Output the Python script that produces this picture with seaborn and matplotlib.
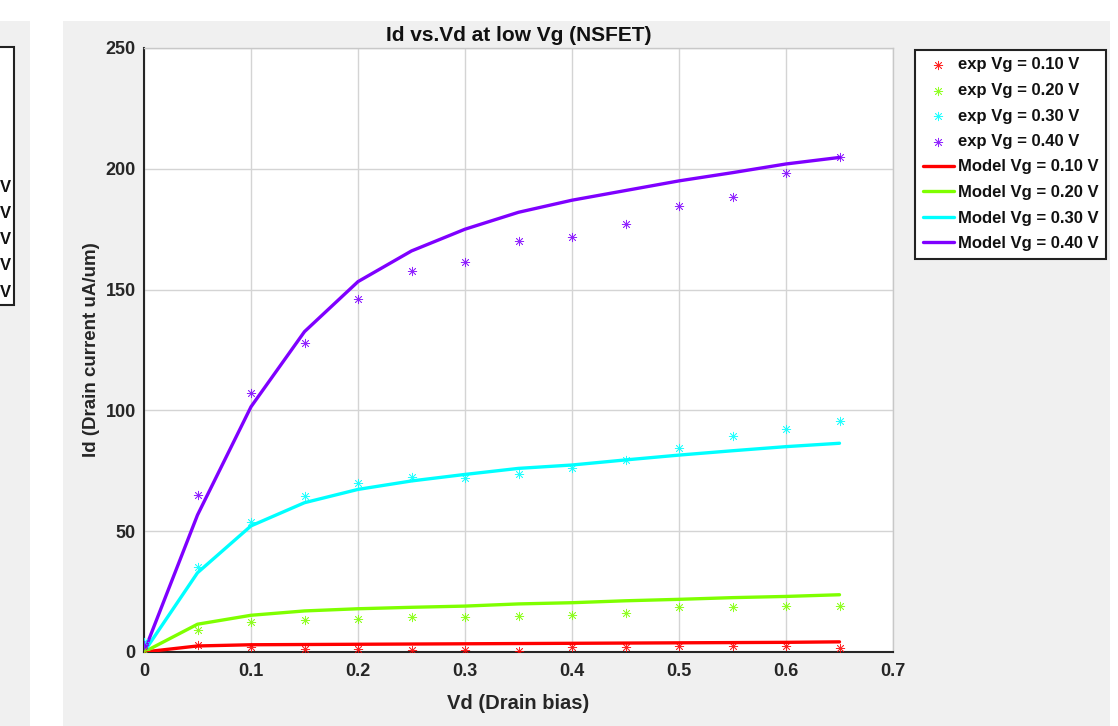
import numpy as np
import pandas as pd
import matplotlib
matplotlib.use("Agg")
import matplotlib.pyplot as plt
from matplotlib.patches import Rectangle
import seaborn as sns

# ---- data ----
vd = [0.0, 0.05, 0.10, 0.15, 0.20, 0.25, 0.30, 0.35, 0.40, 0.45, 0.50, 0.55, 0.60, 0.65]
vg_labels = ["0.10", "0.20", "0.30", "0.40"]
colors = ["#ff0000", "#7fff00", "#00ffff", "#7f00ff"]

exp_01 = [0.5, 2.8, 2.2, 1.4, 1.4, 0.7, 1.0, 0.5, 2.0, 2.0, 2.3, 2.3, 2.3, 1.8]
exp_02 = [1.0, 9.1, 12.4, 13.2, 13.8, 14.5, 14.6, 14.8, 15.2, 16.0, 18.8, 18.8, 19.2, 18.9]
exp_03 = [4.0, 35.3, 54.0, 64.6, 69.8, 72.3, 71.9, 73.7, 76.0, 79.5, 84.3, 89.4, 92.2, 95.7]
exp_04 = [3.0, 65.0, 107.3, 128.0, 146.0, 157.7, 161.4, 170.3, 171.6, 177.0, 184.6, 188.3, 198.4, 205.0]

model_01 = [0.0, 2.5, 3.0, 3.1, 3.2, 3.3, 3.4, 3.5, 3.6, 3.7, 3.8, 3.9, 4.0, 4.2]
model_02 = [0.0, 11.5, 15.2, 17.0, 17.9, 18.5, 19.0, 19.9, 20.4, 21.2, 21.8, 22.5, 23.0, 23.7]
model_03 = [0.0, 32.8, 52.2, 61.8, 67.3, 70.8, 73.5, 76.0, 77.4, 79.5, 81.5, 83.3, 85.0, 86.4]
model_04 = [0.0, 56.7, 101.5, 132.6, 153.3, 166.0, 175.0, 182.0, 187.0, 191.0, 195.0, 198.4, 202.0, 204.7]

exp_series = [exp_01, exp_02, exp_03, exp_04]
model_series = [model_01, model_02, model_03, model_04]

xticks = [0, 0.1, 0.2, 0.3, 0.4, 0.5, 0.6, 0.7]
xticklabels = ["0", "0.1", "0.2", "0.3", "0.4", "0.5", "0.6", "0.7"]
yticks = [0, 50, 100, 150, 200, 250]

# ---- style ----
sns.set_style("whitegrid")
plt.rcParams["font.family"] = ["Liberation Sans", "DejaVu Sans"]
plt.rcParams["font.weight"] = "bold"

W, H = 1118, 726
fig = plt.figure(figsize=(W / 100, H / 100), dpi=100)
fig.patch.set_facecolor("white")

gray = "#f0f0f0"
fig.patches.append(Rectangle((0, 0), 30 / W, (H - 21) / H, transform=fig.transFigure,
                             facecolor=gray, edgecolor="none", zorder=-10))
fig.patches.append(Rectangle((63 / W, 0), (1110 - 63) / W, (H - 21) / H, transform=fig.transFigure,
                             facecolor=gray, edgecolor="none", zorder=-10))
# partial legend box of the neighbouring (cut-off) panel
fig.patches.append(Rectangle((-20 / W, 1 - 305 / H), 34 / W, (305 - 47) / H, transform=fig.transFigure,
                             facecolor="white", edgecolor="#222222", linewidth=1.5, zorder=-5))
for yy in [187, 213, 240, 266, 292]:
    fig.text(11 / W, 1 - yy / H, "V", ha="right", va="center", fontsize=12,
             fontweight="bold", color="#111111")

ax = fig.add_axes([144 / W, 1 - 652 / H, (893 - 144) / W, (652 - 48) / H])
ax.set_facecolor("white")

rows = []
for lab, ys in zip(vg_labels, exp_series):
    for x, y in zip(vd, ys):
        rows.append({"Vd": x, "Id": y, "Vg": lab})
df_exp = pd.DataFrame(rows)
rows = []
for lab, ys in zip(vg_labels, model_series):
    for x, y in zip(vd, ys):
        rows.append({"Vd": x, "Id": y, "Vg": lab})
df_model = pd.DataFrame(rows)

for lab, c in zip(vg_labels, colors):
    sns.lineplot(data=df_model[df_model["Vg"] == lab], x="Vd", y="Id", color=c,
                 linewidth=2.4, ax=ax, label=f"Model Vg = {lab} V", zorder=3)
for lab, c in zip(vg_labels, colors):
    sns.scatterplot(data=df_exp[df_exp["Vg"] == lab], x="Vd", y="Id", color=c,
                    marker=(8, 2, 0), s=38, linewidth=0.55, alpha=0.85, ax=ax,
                    label=f"exp Vg = {lab} V", zorder=4)

handles, labels = ax.get_legend_handles_labels()
order = [4, 5, 6, 7, 0, 1, 2, 3]
handles = [handles[i] for i in order]
labels = [labels[i] for i in order]
leg = fig.legend(handles, labels, loc="upper left",
                 bbox_to_anchor=(915 / W, 1 - 50 / H), bbox_transform=fig.transFigure,
                 fancybox=False, frameon=True, fontsize=12, handlelength=1.9,
                 handletextpad=0.2, borderpad=0.45, labelspacing=0.63, borderaxespad=0)
leg.get_frame().set_edgecolor("#222222")
leg.get_frame().set_linewidth(1.5)
leg.get_frame().set_facecolor("white")
leg.get_frame().set_alpha(1.0)
for t in leg.get_texts():
    t.set_fontweight("bold")
    t.set_color("#111111")
if ax.get_legend() is not None:
    ax.get_legend().remove()

ax.set_xlim(0, 0.7)
ax.set_ylim(0, 250)
ax.set_xticks(xticks)
ax.set_xticklabels(xticklabels)
ax.set_yticks(yticks)
ax.grid(True, color="#d4d4d4", linewidth=1.0)
ax.set_axisbelow(True)

for side in ["left", "bottom"]:
    ax.spines[side].set_color("#262626")
    ax.spines[side].set_linewidth(1.5)
for side in ["top", "right"]:
    ax.spines[side].set_color("#c8c8c8")
    ax.spines[side].set_linewidth(1.0)

ax.tick_params(axis="both", direction="in", length=7, width=1.2, color="#262626",
               labelsize=13, labelcolor="#262626")
ax.tick_params(axis="x", pad=8)
ax.tick_params(axis="y", pad=6)
for t in ax.get_xticklabels() + ax.get_yticklabels():
    t.set_fontweight("bold")

ax.set_title("Id vs.Vd at low Vg (NSFET)", fontsize=15, fontweight="bold", color="#111111", pad=5)
ax.set_xlabel("Vd (Drain bias)", fontsize=14.5, fontweight="bold", color="#262626", labelpad=10)
ax.set_ylabel("Id (Drain current uA/um)", fontsize=13.5, fontweight="bold", color="#262626", labelpad=4)

fig.savefig("out.png", dpi=100, facecolor=fig.get_facecolor())
